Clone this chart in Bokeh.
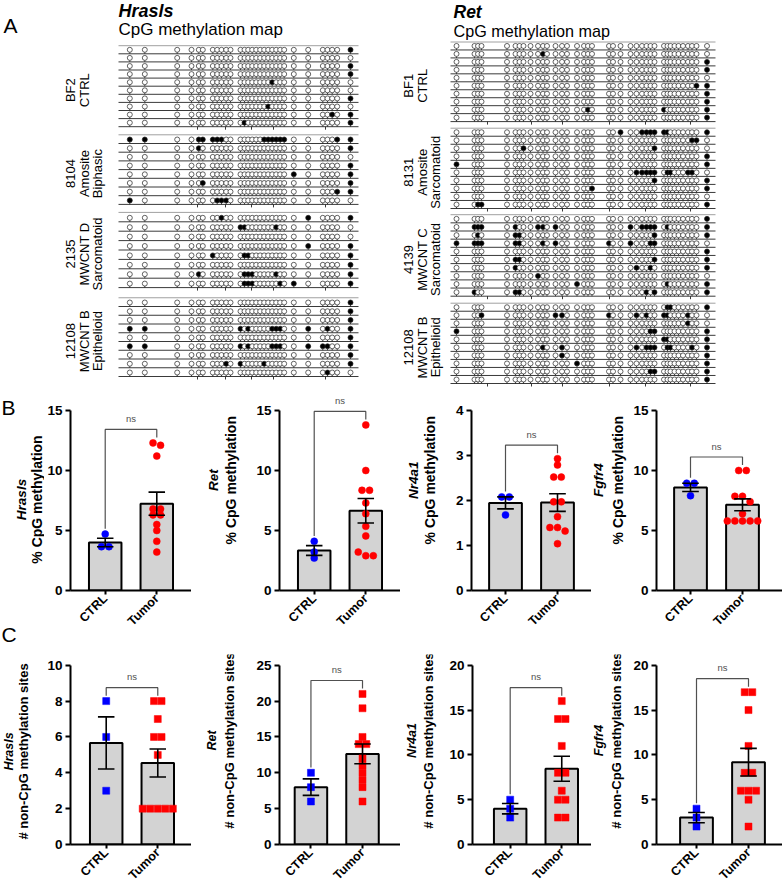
import numpy as np
from math import pi
from bokeh.plotting import figure
from bokeh.models import Range1d, FixedTicker
from bokeh.layouts import row, column
from bokeh.embed import file_html
from bokeh.resources import INLINE
from bokeh.core.properties import value

FONT = "Liberation Sans"


def fs(px):
    return f"{px:.1f}px"


# ---------------- Panel A data : CpG methylation maps ----------------
hras_sites = [11.3, 26.3, 58.7, 73.0, 80.3, 84.3, 94.3, 98.7, 103.0, 107.7, 112.0, 122.0, 126.0,
              129.7, 133.7, 137.7, 141.7, 145.7, 149.7, 153.7, 157.7, 161.7, 165.7, 175.3, 189.7,
              204.3, 209.0, 213.7, 218.7, 232.0]
hras_length = 240
hras_ruler = [79, 107, 133, 155, 207]
hras_samples = [["BF2", "CTRL"], ["8104", "Amosite", "Biphasic"],
                ["2135", "MWCNT D", "Sarcomatoid"], ["12108", "MWCNT B", "Epithelioid"]]
hras_meth = [
    [[29], [], [29], [29], [19], [], [29], [18], [27, 29], [12, 29]],
    [[0, 1, 4, 5, 6, 7, 8, 17, 18, 19, 20, 21, 22, 28, 29], [4, 29], [], [29], [23, 29], [5, 29],
     [28, 29], [0, 7, 8, 9]],
    [[8, 24, 29], [11, 12, 20], [], [24, 29], [6, 12, 13, 29], [29], [4, 12, 13, 14, 20, 29],
     [12, 13, 14, 21, 23, 29]],
    [[29], [29], [29], [0, 1, 11, 13, 19, 20, 21, 24, 26, 29], [29],
     [0, 1, 11, 13, 19, 20, 21, 24, 25, 26, 29], [29], [9, 11, 17, 29], [26]],
]

ret_sites = [6, 24, 27.5, 31, 56.5, 65, 69, 73, 80, 87.5, 92.5, 96.5, 105, 111.5, 116.5, 126.5,
             133.5, 137.5, 141.5, 158.5, 162.5, 170, 180, 186, 191.5, 196, 200, 204, 213.5, 217,
             220, 224, 228, 232.5, 237.5, 241.5, 246, 256.5]
ret_length = 265
ret_ruler = [37, 81, 112, 159, 195, 240]
ret_samples = [["BF1", "CTRL"], ["8131", "Amosite", "Sarcomatoid"],
               ["4139", "MWCNT C", "Sarcomatoid"], ["12108", "MWCNT B", "Epithelioid"]]
ret_meth = [
    [[], [10], [37], [37], [], [36, 37], [37], [37], [17, 28, 37], [37]],
    [[21, 24, 25, 26, 27, 28, 29, 37], [35, 36], [7, 27], [37], [0, 37],
     [23, 24, 25, 26, 27, 29, 30, 34, 35], [27, 37], [18, 37], [], [2, 3, 37]],
    [[37], [1, 2, 3, 5, 9, 10, 12, 22, 24, 25, 26, 27, 29, 37], [2, 5, 6, 27, 37],
     [0, 1, 2, 3, 5, 6, 10, 12, 19, 22, 26, 27], [37], [5, 6, 27, 37], [5, 23, 26, 37], [9],
     [15, 29, 37], [1, 5, 6, 25, 27, 37]],
    [[29, 30, 37], [3, 12, 13, 19, 23, 25, 28, 29, 34], [34], [0, 26, 27, 37], [28, 29, 37],
     [10, 13, 23, 25, 26, 27, 29, 30, 35, 37], [13, 37], [15, 37], [26, 27, 37], [37]],
]

# ---------------- Panels B / C data ----------------
genes = ["Hrasls", "Ret", "Nr4a1", "Fgfr4"]
groups = ["CTRL", "Tumor"]

hras_cpg_ctrl = [4.7, 3.65, 3.65]
hras_cpg_tumor = [12.3, 12.1, 11.2, 6.8, 6.8, 6.3, 6.3, 5.5, 5.0, 4.1, 3.2]
ret_cpg_ctrl = [4.1, 3.2, 2.7]
ret_cpg_tumor = [13.8, 10.0, 8.35, 8.35, 7.3, 6.4, 5.35, 4.55, 3.2, 2.9, 2.9]
nr4a1_cpg_ctrl = [2.08, 2.08, 1.68]
nr4a1_cpg_tumor = [2.93, 2.79, 2.52, 2.52, 1.97, 1.97, 1.64, 1.4, 1.4, 1.32, 1.04]
fgfr4_cpg_ctrl = [8.94, 8.94, 7.9]
fgfr4_cpg_tumor = [10.0, 10.0, 7.85, 7.85, 7.4, 6.4, 5.8, 5.8, 5.8, 5.8, 5.8]

hras_non_ctrl = [8, 6, 3]
hras_non_tumor = [8, 8, 7, 6, 6, 5, 2, 2, 2, 2, 2]
ret_non_ctrl = [10, 8, 6]
ret_non_tumor = [21, 19, 15, 14, 14, 12, 11, 10, 9, 8, 6]
nr4a1_non_ctrl = [5, 4, 3]
nr4a1_non_tumor = [16, 14, 14, 11, 8, 8, 6, 5, 5, 3, 3]
fgfr4_non_ctrl = [4, 3, 2]
fgfr4_non_tumor = [17, 17, 15, 11, 8, 8, 6, 6, 6, 5, 2]

cpg_ymax = [15, 15, 4, 15]
cpg_step = [5, 5, 1, 5]
non_ymax = [10, 25, 20, 20]
non_step = [2, 5, 5, 5]


# ---------------- helpers ----------------
def blank(w, h, cx0, cy0):
    p = figure(width=w, height=h, x_range=Range1d(cx0, cx0 + w), y_range=Range1d(-(cy0 + h), -cy0),
               output_backend="svg", toolbar_location=None, x_axis_location=None,
               y_axis_location=None, min_border=0)
    p.grid.grid_line_color = None
    p.outline_line_color = None
    return p


def txt(p, x, y, t, size, style="normal", align="left", baseline="middle", angle=0,
        color="black", **kw):
    xs = x if isinstance(x, list) else [x]
    ys = y if isinstance(y, list) else [y]
    p.text(x=xs, y=[-v for v in ys], text=t if isinstance(t, list) else [t],
           text_font=value(FONT), text_font_size=fs(size), text_font_style=style,
           text_align=align, text_baseline=baseline, angle=angle, text_color=color, **kw)


# ---------------- Panel A figure ----------------
A_H = 390
pa = blank(782, A_H, 0, 0)
pa.extra_x_ranges = {"hras": Range1d(0 - 118, 782 - 118), "ret": Range1d(0 - 450, 782 - 450)}

txt(pa, 3, 24.5, "A", 21)
txt(pa, 118, 10.0, "Hrasls", 18, style="bold italic")
txt(pa, 118, 28.5, "CpG methylation map", 17)
txt(pa, 453, 11.5, "Ret", 17.5, style="bold italic")
txt(pa, 453, 30.0, "CpG methylation map", 16.2)

maps = [
    ("hras", hras_sites, hras_length, hras_meth, hras_samples, hras_ruler,
     [45.2, 134.3, 211.9, 297.25], [8.1, 8.7, 9.4, 8.75], 70.0),
    ("ret", ret_sites, ret_length, ret_meth, ret_samples, ret_ruler,
     [41.5, 127.7, 214.2, 302.7], [7.96, 8.03, 8.15, 8.03], 408.3),
]
for rname, sites, length, meth, samples, ruler, tops, steps, lab_x in maps:
    for b, rows_ in enumerate(meth):
        top, st = tops[b], steps[b]
        line_ys = [top] + [top + st * (i + 1) for i in range(len(rows_))]
        pa.multi_line(xs=[[0, length]] * len(line_ys), ys=[[-y, -y] for y in line_ys],
                      line_color=["#a0a0a0"] + ["#3a3a3a"] * len(rows_), line_width=1.0,
                      x_range_name=rname)
        cx, cy, fill, sy0, sy1 = [], [], [], [], []
        for i, r in enumerate(rows_):
            yl = top + st * (i + 1)
            for k, s in enumerate(sites):
                cx.append(s)
                cy.append(-(yl - 4.0))
                fill.append("black" if k in r else "white")
                sy0.append(-yl)
                sy1.append(-(yl - 1.6))
        pa.segment(x0=cx, y0=sy0, x1=cx, y1=sy1, line_color="#222222", line_width=0.8,
                   x_range_name=rname)
        pa.scatter(x=cx, y=cy, marker="circle", size=5.0, fill_color=fill,
                   line_color="#222222", line_width=0.7, x_range_name=rname)
        last = line_ys[-1]
        pa.segment(x0=ruler, y0=[-last] * len(ruler), x1=ruler, y1=[-(last + 3)] * len(ruler),
                   line_color="#222222", line_width=0.9, x_range_name=rname)
        n = len(samples[b])
        yc = (line_ys[0] + line_ys[-1]) / 2 + 4
        txt(pa, [lab_x + 13.5 * j for j in range(n)], [yc] * n, samples[b], 13,
            align="center", baseline="middle", angle=pi / 2)

# ---------------- Panels B / C ----------------
PXU = 52.0
LW = [44, 62, 46, 39]            # label-figure widths
CW = [147, 147, 145, 152]        # chart widths
BL = [25, 25, 25, 26]            # left borders (tick labels)
B_H, B_TOP, B_BOT = 246, 2, 44
C_H, C_TOP, C_BOT = 254, 18, 43
B_Y0 = A_H
C_Y0 = A_H + B_H


def swarm(vals, pyu, d=7.6, thr=6.0):
    order = np.argsort(-vals, kind="stable")
    offs = np.zeros(len(vals))
    clusters, cur = [], [order[0]]
    for idx in order[1:]:
        if (vals[cur[0]] - vals[idx]) * pyu < thr:
            cur.append(idx)
        else:
            clusters.append(cur)
            cur = [idx]
    clusters.append(cur)
    for c in clusters:
        n = len(c)
        for j, idx in enumerate(c):
            offs[idx] = (j - (n - 1) / 2) * d / PXU
    return offs


def chart(ctrl, tumor, ymax, step, marker, w, border, x_start, h, top, bottom, yfac):
    frame_w = w - border
    p = figure(width=w, height=h, x_range=Range1d(x_start, x_start + frame_w / PXU),
               y_range=Range1d(0, ymax * yfac), output_backend="svg", toolbar_location=None,
               min_border_left=border, min_border_right=0, min_border_top=top,
               min_border_bottom=bottom)
    p.grid.grid_line_color = None
    p.outline_line_color = None
    gs = [np.array(ctrl, float), np.array(tumor, float)]
    means = [g.mean() for g in gs]
    sems = [g.std(ddof=1) / np.sqrt(len(g)) for g in gs]
    p.vbar(x=[0, 1], top=means, bottom=0, width=0.63, fill_color="#d3d3d3",
           line_color="black", line_width=2.0)
    pyu = (h - top - bottom) / (ymax * yfac)
    cols = ["#0000ff", "#ff0000"]
    for gi, g in enumerate(gs):
        offs = swarm(g, pyu)
        p.scatter(x=gi + offs, y=g, marker=marker, size=7.0, fill_color=cols[gi],
                  line_color=cols[gi], line_width=0.5)
    cap = 0.16
    x0, y0, x1, y1 = [], [], [], []
    for gi in range(2):
        lo, hi = means[gi] - sems[gi], means[gi] + sems[gi]
        x0 += [gi, gi - cap, gi - cap]
        x1 += [gi, gi + cap, gi + cap]
        y0 += [lo, lo, hi]
        y1 += [hi, lo, hi]
    p.segment(x0=x0, y0=y0, x1=x1, y1=y1, line_color="black", line_width=1.6)
    top_all = max(g.max() for g in gs)
    bh = top_all + 0.075 * ymax
    lend = max(gs[0].max(), means[0] + sems[0]) + 0.03 * ymax
    rend = max(gs[1].max(), means[1] + sems[1]) + 0.03 * ymax
    p.line(x=[0, 0, 1, 1], y=[lend, bh, bh, rend], line_color="#505050", line_width=1.2)
    p.text(x=[0.5], y=[bh + 0.03 * ymax], text=["ns"], text_font=value(FONT),
           text_font_size=fs(9.5), text_color="#505050", text_align="center",
           text_baseline="bottom")
    # axes
    p.xaxis.ticker = FixedTicker(ticks=[0, 1])
    p.xaxis.major_label_overrides = {0: groups[0], 1: groups[1]}
    p.xaxis.major_label_orientation = pi / 4
    p.yaxis.ticker = FixedTicker(ticks=list(range(0, ymax + 1, step)))
    p.yaxis.bounds = (0, ymax)
    for ax in (p.xaxis, p.yaxis):
        ax.axis_line_width = 2.0
        ax.axis_line_color = "black"
        ax.major_tick_line_width = 2.0
        ax.major_tick_in = 0
        ax.minor_tick_line_color = None
        ax.major_label_text_font = FONT
        ax.major_label_text_font_style = "bold"
        ax.major_label_text_color = "black"
    p.xaxis.major_tick_out = 4
    p.xaxis.major_label_standoff = 2
    p.xaxis.major_label_text_font_size = fs(12.5)
    p.yaxis.major_tick_out = 5
    p.yaxis.major_label_standoff = 3
    p.yaxis.major_label_text_font_size = fs(13.5)
    return p


cpg_data = [(hras_cpg_ctrl, hras_cpg_tumor), (ret_cpg_ctrl, ret_cpg_tumor),
            (nr4a1_cpg_ctrl, nr4a1_cpg_tumor), (fgfr4_cpg_ctrl, fgfr4_cpg_tumor)]
non_data = [(hras_non_ctrl, hras_non_tumor), (ret_non_ctrl, ret_non_tumor),
            (nr4a1_non_ctrl, nr4a1_non_tumor), (fgfr4_non_ctrl, fgfr4_non_tumor)]
b_xstart = [-35 / 52, -35 / 52, -34 / 52, -34 / 52]
c_xstart = [-36 / 52, -31.7 / 52, -38 / 52, -40 / 52]

# y-label positions (pixel columns): gene line, description line
b_lab_x = [(21, 36), (213, 230), (413, 429), (598, 617.5)]
c_lab_x = [(8, 22.5), (211.7, 229), (411, 427.5), (598, 616)]
B_LAB_Y, C_LAB_Y = 499, 751
cpg_label = "% CpG methylation"
non_label = "# non-CpG methylation sites"

# column 1 label figure spans both rows
L1 = blank(LW[0], B_H + C_H, 0, B_Y0)
txt(L1, 1, 407, "B", 21)
txt(L1, 1, 634, "C", 21)

brow, crow = [], []
cx = LW[0]
for i in range(4):
    if i > 0:
        lb = blank(LW[i], B_H, cx, B_Y0)
        lc = blank(LW[i], C_H, cx, C_Y0)
        brow.append(lb)
        crow.append(lc)
        cx += LW[i]
    else:
        lb = lc = L1
    gx, dx = b_lab_x[i]
    txt(lb, gx, B_LAB_Y, genes[i], 13.5, style="bold italic", align="center", angle=pi / 2)
    txt(lb, dx, B_LAB_Y, cpg_label, 14, style="bold", align="center", angle=pi / 2)
    gx, dx = c_lab_x[i]
    txt(lc, gx, C_LAB_Y, genes[i], 12.5, style="bold italic", align="center", angle=pi / 2)
    txt(lc, dx, C_LAB_Y, non_label, 13, style="bold", align="center", angle=pi / 2)
    brow.append(chart(cpg_data[i][0], cpg_data[i][1], cpg_ymax[i], cpg_step[i], "circle",
                      CW[i], BL[i], b_xstart[i], B_H, B_TOP, B_BOT, 1.1))
    crow.append(chart(non_data[i][0], non_data[i][1], non_ymax[i], non_step[i], "square",
                      CW[i], BL[i], c_xstart[i], C_H, C_TOP, C_BOT, 1.06))
    cx += CW[i]

layout = column(pa, row(L1, column(row(*brow), row(*crow))))
open("out.html", "w").write(file_html(layout, INLINE))
